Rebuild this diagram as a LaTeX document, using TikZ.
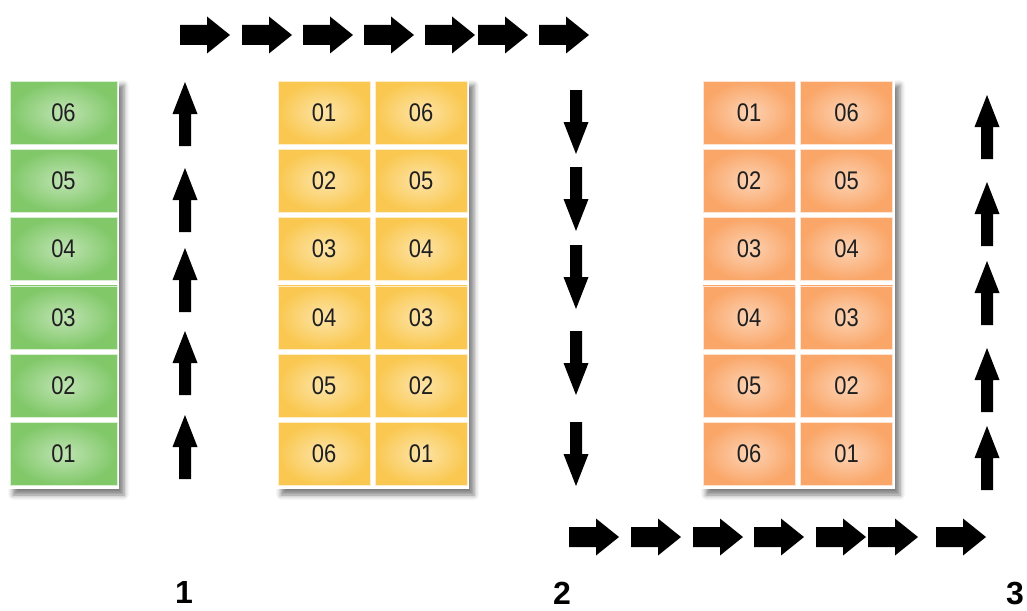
\documentclass[tikz,border=0pt]{standalone}
\usepackage{fontspec}
\setmainfont{Liberation Sans}
\newfontfamily\cellfont[FakeStretch=0.86]{Liberation Sans}
\usetikzlibrary{shadows.blur}

\definecolor{cellgreen}{RGB}{128,200,104}
\definecolor{cellyellow}{RGB}{250,200,80}
\definecolor{cellorange}{RGB}{250,166,104}

\begin{document}
\begin{tikzpicture}[x=1pt, y=-1pt,
	cell/.style={draw=white!70!#1, line width=0.8pt, inner color=white!50!#1, outer color=#1,
		minimum width=92pt, minimum height=63pt, inner sep=0pt, text=black!88,
		font=\cellfont\fontsize{25.5}{25.5}\selectfont},
	block/.style={fill=white, blur shadow={shadow xshift=5pt, shadow yshift=-6pt,
		shadow blur radius=5pt, shadow opacity=50}},
	steplabel/.style={font=\bfseries\fontsize{32}{32}\selectfont},
	harrow/.pic={\fill (-25,-10) -- (2,-10) -- (2,-18.5) -- (25,0) -- (2,18.5) -- (2,10) -- (-25,10) -- cycle;},
	varrow/.pic={\fill (-6,32) -- (-6,0) -- (-12.5,0) -- (0,-32) -- (12.5,0) -- (6,0) -- (6,32) -- cycle;}]
			
			\useasboundingbox (0,0) rectangle (1027,610);
			\def\rowgap{68.3}
			
			% white backs with soft shadow
			\fill[block] (8,79) rectangle (119,489);
			\fill[block] (276,79) rectangle (469,489);
			\fill[block] (701,79) rectangle (895,489);
			
			\foreach \t [count=\i] in {06,05,04,03,02,01}
			\node[cell=cellgreen, minimum width=107pt] (g\i) at (63.5,{112.5+(\i-1)*\rowgap}) {\t};
			
			\foreach \a/\b [count=\i] in {01/06,02/05,03/04,04/03,05/02,06/01} {
				\node[cell=cellyellow] (yl\i) at (324,{112.5+(\i-1)*\rowgap}) {\a};
				\node[cell=cellyellow] (yr\i) at (421,{112.5+(\i-1)*\rowgap}) {\b};
				\node[cell=cellorange] (ol\i) at (749,{112.5+(\i-1)*\rowgap}) {\a};
				\node[cell=cellorange] (or\i) at (846.5,{112.5+(\i-1)*\rowgap}) {\b};
			}
			
			% path of the arrows
			\foreach \x in {205,267,328,389,450,503,564}
			\pic at (\x,35) {harrow};
			\foreach \x in {594,656,718,779,841,893,961}
			\pic at (\x,537) {harrow};
			\foreach \y in {114,200,280,363,447}
			\pic at (185,\y) {varrow};
			\foreach \y in {122,199,277,363,454}
			\pic[rotate=180] at (576,\y) {varrow};
			\foreach \y in {127,214,293,380,458}
			\pic at (987,\y) {varrow};
			
			\node[steplabel] (s1) at (184,592) {1};
			\node[steplabel] (s2) at (562,593) {2};
			\node[steplabel] (s3) at (1015,593) {3};
			
	\end{tikzpicture}
\end{document}
